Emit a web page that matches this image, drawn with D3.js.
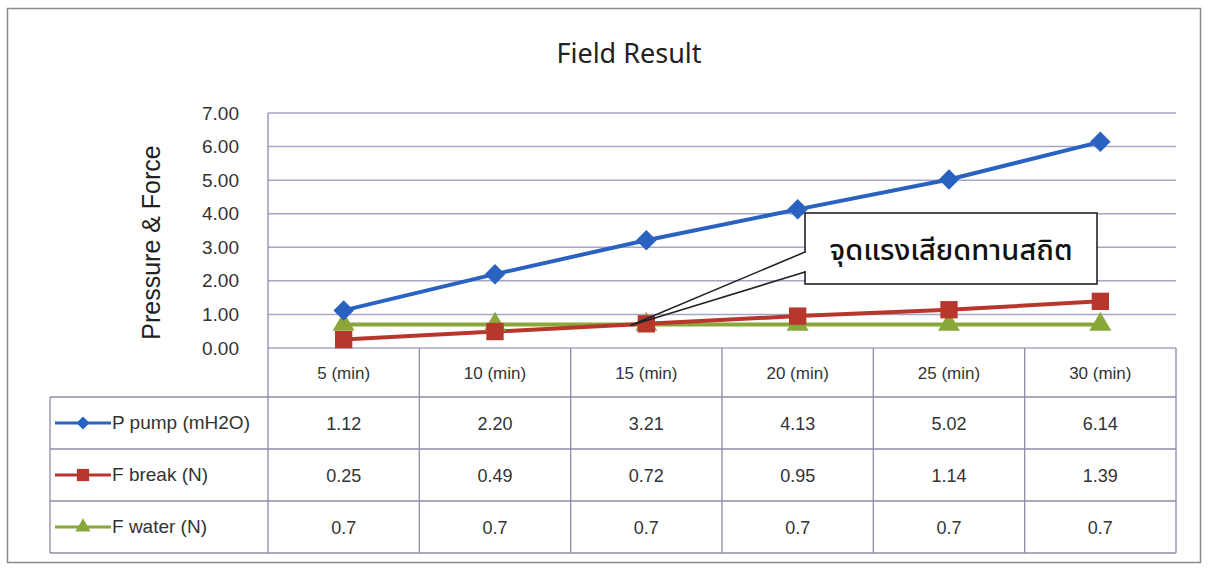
<!DOCTYPE html>
<html><head><meta charset="utf-8">
<script src="https://cdn.jsdelivr.net/npm/d3@7"></script>
<style>html,body{margin:0;padding:0;background:#fff;}svg{display:block;}</style>
</head><body>
<script>
const categories = ["5 (min)", "10 (min)", "15 (min)", "20 (min)", "25 (min)", "30 (min)"];
const seriesNames = ["P pump (mH2O)", "F break (N)", "F water (N)"];
const pPump = [1.12, 2.20, 3.21, 4.13, 5.02, 6.14];
const fBreak = [0.25, 0.49, 0.72, 0.95, 1.14, 1.39];
const fWater = [0.7, 0.7, 0.7, 0.7, 0.7, 0.7];
const tableText = [
  ["1.12", "2.20", "3.21", "4.13", "5.02", "6.14"],
  ["0.25", "0.49", "0.72", "0.95", "1.14", "1.39"],
  ["0.7", "0.7", "0.7", "0.7", "0.7", "0.7"]
];
const yTicks = [0, 1, 2, 3, 4, 5, 6, 7];
const title = "Field Result";
const yTitle = "Pressure & Force";
const calloutText = "จุดแรงเสียดทานสถิต";

const W = 1214, H = 568;
const svg = d3.select("body").append("svg").attr("width", W).attr("height", H);

const plotL = 268, plotR = 1176, plotT = 113, plotB = 348;
const tableL = 50, tableB = 553, headerB = 397;

const x = d3.scaleBand().domain(categories).range([plotL, plotR]).padding(0);
const y = d3.scaleLinear().domain([0, 7]).range([plotB, plotT]);
const rowY = d3.scaleBand().domain(seriesNames).range([headerB, tableB]).padding(0);

const colors = ["#2a62c2", "#b8372c", "#8aa83a"];
const gridColor = "#a6a6c8";
const tableColor = "#8c8ca8";
const arial = "'Liberation Sans', Arial, sans-serif";

// outer border
svg.append("rect").attr("x", 7.5).attr("y", 8.5).attr("width", 1193).attr("height", 554)
  .attr("fill", "#fff").attr("stroke", "#8a8a8a").attr("stroke-width", 1.5);

// title
svg.append("text").attr("x", 629).attr("y", 63).attr("text-anchor", "middle")
  .attr("font-family", "'Noto Sans', 'Open Sans', sans-serif").attr("font-size", 27)
  .attr("fill", "#222").text(title);

// gridlines
svg.append("g").selectAll("line").data(yTicks).join("line")
  .attr("x1", plotL).attr("x2", plotR)
  .attr("y1", d => y(d)).attr("y2", d => y(d))
  .attr("stroke", gridColor).attr("stroke-width", 1.5);

// left plot border
svg.append("line").attr("x1", plotL).attr("x2", plotL).attr("y1", plotT).attr("y2", tableB)
  .attr("stroke", tableColor).attr("stroke-width", 1.3);

// y axis
const yAxis = d3.axisLeft(y).tickValues(yTicks).tickFormat(d3.format(".2f")).tickSize(0).tickPadding(29);
const ga = svg.append("g").attr("transform", `translate(${plotL},0)`).call(yAxis);
ga.select(".domain").remove();
ga.selectAll("text").attr("font-family", arial).attr("font-size", 19).attr("fill", "#333");

// y title
svg.append("text").attr("transform", `translate(160,${(plotT + plotB) / 2 + 12}) rotate(-90)`)
  .attr("text-anchor", "middle").attr("font-family", arial)
  .attr("font-size", 25).attr("fill", "#222").text(yTitle);

// table lines
const tg = svg.append("g").attr("stroke", tableColor).attr("stroke-width", 1.3);
const xs = categories.map(c => x(c)).concat([plotR]);
xs.slice(1).forEach(v => tg.append("line").attr("x1", v).attr("x2", v).attr("y1", plotB).attr("y2", tableB));
tg.append("line").attr("x1", tableL).attr("x2", tableL).attr("y1", headerB).attr("y2", tableB);
const rowLines = seriesNames.map(s => rowY(s)).concat([tableB]);
rowLines.forEach(v => tg.append("line").attr("x1", tableL).attr("x2", plotR).attr("y1", v).attr("y2", v));

// header labels
svg.append("g").selectAll("text").data(categories).join("text")
  .attr("x", d => x(d) + x.bandwidth() / 2).attr("y", (plotB + headerB) / 2 + 6)
  .attr("text-anchor", "middle").attr("font-family", arial)
  .attr("font-size", 17).attr("fill", "#333").text(d => d);

// table values
tableText.forEach((row, i) => {
  svg.append("g").selectAll("text").data(row).join("text")
    .attr("x", (d, j) => x(categories[j]) + x.bandwidth() / 2)
    .attr("y", rowY(seriesNames[i]) + rowY.bandwidth() / 2 + 7)
    .attr("text-anchor", "middle").attr("font-family", arial)
    .attr("font-size", 18).attr("fill", "#333").text(d => d);
});

// marker symbols (diamond = rotated square)
const symbols = [d3.symbolSquare, d3.symbolSquare, d3.symbolTriangle];
const rot = [45, 0, 0];
const symSizes = [210, 300, 210];
const symSmall = [85, 150, 100];

const seriesData = [pPump, fBreak, fWater];
const line = d3.line().x((d, i) => x(categories[i]) + x.bandwidth() / 2).y(d => y(d));

[2, 1, 0].forEach(k => {
  svg.append("path").datum(seriesData[k]).attr("d", line)
    .attr("fill", "none").attr("stroke", colors[k]).attr("stroke-width", 4);
});
[2, 1, 0].forEach(k => {
  svg.append("g").selectAll("path").data(seriesData[k]).join("path")
    .attr("transform", (d, i) => `translate(${x(categories[i]) + x.bandwidth() / 2},${y(d)}) rotate(${rot[k]})`)
    .attr("d", d3.symbol().type(symbols[k]).size(symSizes[k]))
    .attr("fill", colors[k]);
});

// legend keys in table
seriesNames.forEach((s, k) => {
  const cy = rowY(s) + rowY.bandwidth() / 2;
  svg.append("line").attr("x1", 55).attr("x2", 111).attr("y1", cy).attr("y2", cy)
    .attr("stroke", colors[k]).attr("stroke-width", 3);
  svg.append("path").attr("transform", `translate(83,${cy}) rotate(${rot[k]})`)
    .attr("d", d3.symbol().type(symbols[k]).size(symSmall[k])).attr("fill", colors[k]);
  svg.append("text").attr("x", 112).attr("y", cy + 6)
    .attr("font-family", arial).attr("font-size", 19)
    .attr("fill", "#333").text(s);
});

// callout
const boxX = 805, boxY = 213, boxW = 292, boxH = 71;
const tipX = x(categories[2]) + x.bandwidth() / 2 - 16, tipY = y(fWater[2]) + 1;
svg.append("rect").attr("x", boxX).attr("y", boxY).attr("width", boxW).attr("height", boxH)
  .attr("fill", "#fff").attr("stroke", "#222").attr("stroke-width", 1.6);
svg.append("path")
  .attr("d", `M${boxX},${boxY + 39} L${tipX},${tipY} L${boxX},${boxY + 59}`)
  .attr("fill", "none").attr("stroke", "#222").attr("stroke-width", 1.6);
svg.append("line").attr("x1", boxX).attr("x2", boxX).attr("y1", boxY + 40).attr("y2", boxY + 58)
  .attr("stroke", "#fff").attr("stroke-width", 2.5);
svg.append("text").attr("x", boxX + boxW / 2).attr("y", boxY + boxH / 2 + 11)
  .attr("text-anchor", "middle").attr("font-family", "'Noto Sans', 'Noto Sans Thai', sans-serif")
  .attr("font-size", 29).attr("font-weight", 500).attr("fill", "#111").text(calloutText);
</script>
</body></html>
